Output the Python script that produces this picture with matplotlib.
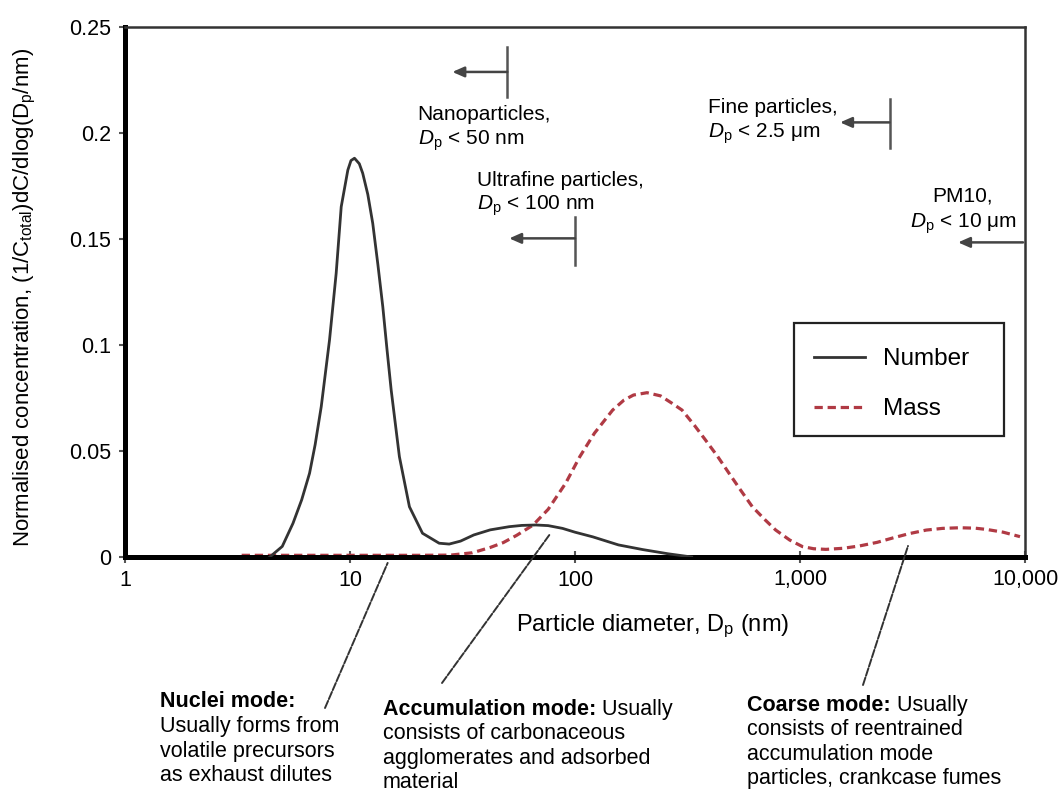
import matplotlib
matplotlib.use("Agg")
import matplotlib.pyplot as plt
from matplotlib.patches import Rectangle

plt.rcParams['font.family'] = ['Liberation Sans', 'DejaVu Sans']
plt.rcParams['mathtext.fontset'] = 'custom'
plt.rcParams['mathtext.rm'] = 'Liberation Sans'
plt.rcParams['mathtext.it'] = 'Liberation Sans:italic'
plt.rcParams['mathtext.bf'] = 'Liberation Sans:bold'

# size distribution (diameter in nm)
number_dp = [4.4, 5.0, 5.58, 6.1, 6.61, 7.0, 7.45, 8.11, 8.68, 9.14, 9.78, 10.1,
             10.47, 11.0, 11.39, 12.0, 12.62, 13.3, 13.99, 14.6, 15.24, 16.58,
             18.37, 21.0, 24.9, 27.6, 31, 35.5, 42, 51, 58, 67, 76, 88, 100, 120,
             156, 200, 260, 330]
number_c = [0.0, 0.005, 0.0159, 0.027, 0.0395, 0.053, 0.0709, 0.1024, 0.1338,
            0.1652, 0.1825, 0.187, 0.1881, 0.1855, 0.181, 0.171, 0.1574, 0.138,
            0.118, 0.098, 0.0788, 0.0473, 0.0237, 0.0112, 0.0065, 0.0061, 0.0075,
            0.0104, 0.0128, 0.0143, 0.0149, 0.0151, 0.0148, 0.0135, 0.0117,
            0.0095, 0.0057, 0.0035, 0.0015, 0.0]

mass_dp = [3.3, 5, 7, 10, 15, 20, 28, 35, 42, 48, 55, 65, 76, 91, 105, 122, 147,
           165, 182, 209, 240, 270, 299, 340, 380, 430, 483, 545, 614, 700, 780,
           900, 1026, 1150, 1303, 1550, 1836, 2200, 2588, 3050, 3640, 4300,
           5130, 6000, 6750, 8000, 9500]
mass_c = [0.0008, 0.0008, 0.0008, 0.0008, 0.0008, 0.0008, 0.0009, 0.002,
          0.0045, 0.0068, 0.0102, 0.015, 0.0225, 0.0349, 0.0473, 0.0584, 0.0693,
          0.074, 0.0764, 0.0775, 0.076, 0.0725, 0.0693, 0.062, 0.0552, 0.0475,
          0.0396, 0.0315, 0.0237, 0.0175, 0.0127, 0.008, 0.0049, 0.0039, 0.0036,
          0.0041, 0.0052, 0.0069, 0.009, 0.011, 0.0127, 0.0135, 0.0138, 0.0136,
          0.013, 0.0117, 0.0096]

xticks = [1, 10, 100, 1000, 10000]
xticklabels = ['1', '10', '100', '1,000', '10,000']
yticks = [0, 0.05, 0.1, 0.15, 0.2, 0.25]
yticklabels = ['0', '0.05', '0.1', '0.15', '0.2', '0.25']

W, H = 1063, 792
fig = plt.figure(figsize=(W/100, H/100), dpi=100)
ax = fig.add_axes([125/W, 1-557/H, 900/W, 530/H])

ax.plot(number_dp, number_c, color='#333333', lw=2.0, label='Number', zorder=3)
ax.plot(mass_dp, mass_c, color='#b03a44', lw=2.3, ls=(0, (2.6, 1.5)),
        label='Mass', zorder=2)

ax.set_xscale('log')
ax.set_xlim(1, 10000)
ax.set_ylim(0, 0.25)
ax.set_xticks(xticks)
ax.set_xticklabels(xticklabels)
ax.set_yticks(yticks)
ax.set_yticklabels(yticklabels)
ax.minorticks_off()
ax.tick_params(axis='y', direction='out', length=4, width=1.5, color='#555555',
               labelsize=15.5, pad=6)
ax.tick_params(axis='x', direction='inout', length=8, width=1.5, color='#555555',
               labelsize=15.5, pad=5)

for s in ['left', 'bottom']:
    ax.spines[s].set_linewidth(3.6)
    ax.spines[s].set_color('black')
for s in ['top', 'right']:
    ax.spines[s].set_linewidth(1.8)
    ax.spines[s].set_color('#333333')

ax.set_xlabel('Particle diameter, D$_{\\rm p}$ (nm)', fontsize=17)
ax.xaxis.set_label_coords(0.586, -0.104)
ax.set_ylabel('Normalised concentration, (1/C$_{\\rm total}$)dC/dlog(D$_{\\rm p}$/nm)',
              fontsize=16)
ax.yaxis.set_label_coords(-0.097, 0.49)

# legend: box drawn separately so its size can follow the original
ax.add_patch(Rectangle((0.743, 0.228), 0.2333, 0.2135, transform=ax.transAxes,
                       fill=False, edgecolor='#222222', lw=1.6, zorder=4))
ax.legend(loc='upper left', bbox_to_anchor=(0.765, 0.394), fontsize=17.5,
          frameon=False, borderaxespad=0, borderpad=0,
          handlelength=2.1, handletextpad=0.75, labelspacing=1.15)

# size class markers
arrow = dict(arrowstyle='-|>,head_length=0.5,head_width=0.22', color='#444444',
             lw=1.8, shrinkA=0, shrinkB=0, mutation_scale=14)
bar_kw = dict(color='#555555', lw=1.8)


def lines_at(x, baselines, lines, **kw):
    for yb, s in zip(baselines, lines):
        ax.text(x, yb, s, va='baseline', fontsize=15, **kw)


ax.plot([50, 50], [0.217, 0.2406], **bar_kw)
ax.annotate('', xy=(28.5, 0.2288), xytext=(50, 0.2288), arrowprops=arrow)
lines_at(20, [0.2061, 0.1943], ['Nanoparticles,', '$D_{\\rm p}$ < 50 nm'], ha='left')

ax.plot([100, 100], [0.1377, 0.1604], **bar_kw)
ax.annotate('', xy=(51, 0.1503), xytext=(100, 0.1503), arrowprops=arrow)
lines_at(36.7, [0.175, 0.1637], ['Ultrafine particles,', '$D_{\\rm p}$ < 100 nm'],
         ha='left')

ax.plot([2500, 2500], [0.193, 0.216], **bar_kw)
ax.annotate('', xy=(1507, 0.205), xytext=(2500, 0.205), arrowprops=arrow)
lines_at(389, [0.2093, 0.198], ['Fine particles,', '$D_{\\rm p}$ < 2.5 μm'], ha='left')

ax.annotate('', xy=(5040, 0.1484), xytext=(9800, 0.1484), arrowprops=arrow)
lines_at(5300, [0.1676, 0.1555], ['PM10,', '$D_{\\rm p}$ < 10 μm'], ha='center')

# mode leader lines and descriptions
lead = dict(arrowstyle='-', color='#333333', lw=1.4, ls=(0, (4, 1)),
            shrinkA=0, shrinkB=0)
ax.annotate('', xy=(14.7, -0.0028), xytext=(325/W, 1-708/H),
            textcoords='figure fraction', arrowprops=lead, annotation_clip=False)
ax.annotate('', xy=(77.4, 0.0108), xytext=(442/W, 1-683/H),
            textcoords='figure fraction', arrowprops=lead, annotation_clip=False)
ax.annotate('', xy=(3020, 0.0052), xytext=(863/W, 1-685/H),
            textcoords='figure fraction', arrowprops=lead, annotation_clip=False)

renderer = fig.canvas.get_renderer()


def mode_block(x, y0, title, first, rest, step=24.8):
    t = fig.text(x/W, 1-y0/H, title, fontsize=15.5, fontweight='bold',
                 ha='left', va='baseline')
    if first:
        bb = t.get_window_extent(renderer)
        fig.text(bb.x1/W, 1-y0/H, ' ' + first, fontsize=15.5, ha='left',
                 va='baseline')
    for i, s in enumerate(rest):
        fig.text(x/W, 1-(y0+step*(i+1))/H, s, fontsize=15.5, ha='left',
                 va='baseline')


mode_block(160, 707, 'Nuclei mode:', '',
           ['Usually forms from', 'volatile precursors', 'as exhaust dilutes'])
mode_block(383, 715, 'Accumulation mode:', 'Usually',
           ['consists of carbonaceous', 'agglomerates and adsorbed', 'material'],
           step=24.4)
mode_block(747, 711, 'Coarse mode:', 'Usually',
           ['consists of reentrained', 'accumulation mode',
            'particles, crankcase fumes'], step=24.4)

fig.savefig('out.png', dpi=100)
